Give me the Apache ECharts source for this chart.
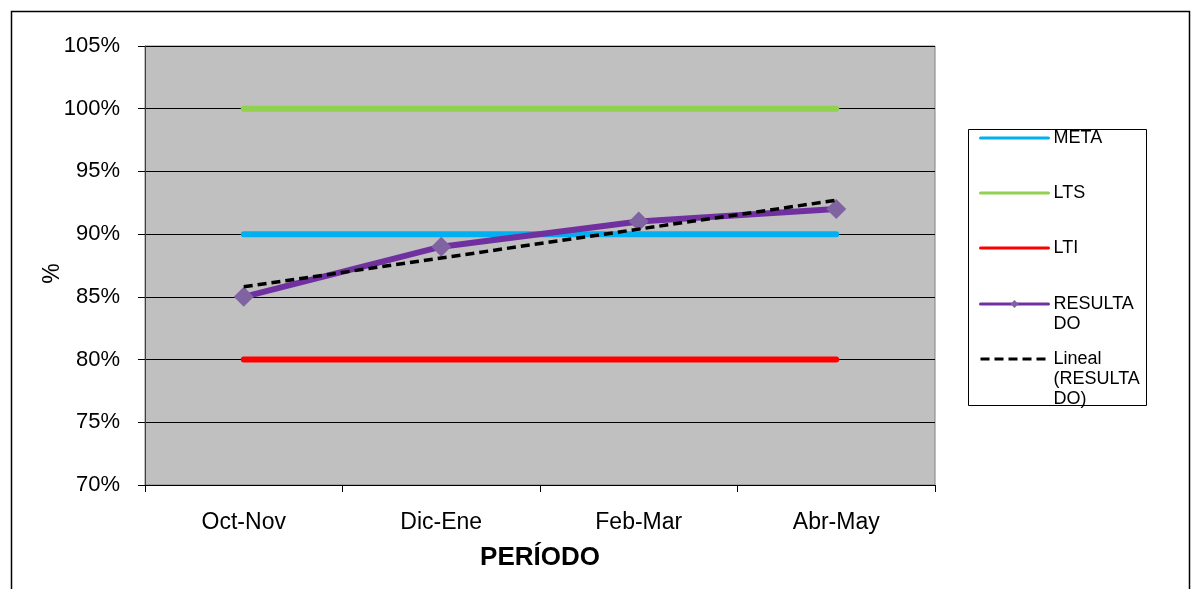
<!DOCTYPE html>
<html>
<head>
<meta charset="utf-8">
<script src="https://cdn.jsdelivr.net/npm/echarts@6/dist/echarts.min.js"></script>
<style>
html,body{margin:0;padding:0;background:#fff;}
#chart{width:1192px;height:589px;}
</style>
</head>
<body>
<div id="chart"></div>
<script>
var categories = ['Oct-Nov', 'Dic-Ene', 'Feb-Mar', 'Abr-May'];
var meta = [90, 90, 90, 90];
var lts = [100, 100, 100, 100];
var lti = [80, 80, 80, 80];
var resultado = [85, 89, 91, 92];
var lineal = [85.8, 88.1, 90.4, 92.7];
var yTicks = {min: 70, max: 105, interval: 5};
var seriesNames = ['META', 'LTS', 'LTI', 'RESULTADO', 'Lineal (RESULTADO)'];
var legendLabels = ['META', 'LTS', 'LTI', 'RESULTA\nDO', 'Lineal\n(RESULTA\nDO)'];

var chart = echarts.init(document.getElementById('chart'));
var font = 'Liberation Sans, Arial, sans-serif';
var legendCenters = [137, 192, 247, 303, 358];
var lh = 20;
var legends = seriesNames.map(function (n, i) {
  var lines = legendLabels[i].split('\n');
  var blanks = [];
  for (var k = 1; k < lines.length; k++) blanks.push('\u00a0');
  var label = blanks.concat(lines).join('\n');
  var total = blanks.length + lines.length;
  var textH = total * lh;
  var hasSymbol = (n === 'RESULTADO');
  return {
    data: [{name: n, itemStyle: hasSymbol ? {} : {opacity: 0}}],
    left: 979,
    top: legendCenters[i] - textH / 2 + 1,
    orient: 'vertical',
    itemWidth: 68,
    itemHeight: 10,
    itemGap: 0,
    padding: 0,
    selectedMode: false,
    formatter: function () { return label; },
    lineStyle: {width: 3},
    textStyle: {fontFamily: font, fontSize: 18, color: '#000', lineHeight: lh}
  };
});

chart.setOption({
  animation: false,
  backgroundColor: '#fff',
  textStyle: {fontFamily: font},
  grid: {left: 145, right: 257, top: 46, bottom: 104, show: true, backgroundColor: '#C0C0C0', borderColor: '#808080', borderWidth: 1},
  legend: legends,
  graphic: [
    {type: 'rect', shape: {x: 11.5, y: 11.5, width: 1178, height: 600}, style: {fill: 'none', stroke: '#000', lineWidth: 1.5}, silent: true},
    {type: 'rect', shape: {x: 968.5, y: 129.5, width: 178, height: 276}, style: {fill: 'none', stroke: '#000', lineWidth: 1}, silent: true, z: 0}
  ],
  xAxis: {
    type: 'category',
    data: categories,
    boundaryGap: true,
    name: 'PERÍODO',
    nameLocation: 'middle',
    nameGap: 60,
    nameMoveOverlap: false,
    nameTextStyle: {fontFamily: font, fontSize: 26, fontWeight: 'bold', color: '#000'},
    axisLine: {lineStyle: {color: '#000', width: 1}},
    axisTick: {show: true, length: 7, alignWithLabel: false, lineStyle: {color: '#000'}},
    axisLabel: {fontFamily: font, fontSize: 23, color: '#000', margin: 26},
    splitLine: {show: false}
  },
  yAxis: {
    type: 'value',
    min: yTicks.min,
    max: yTicks.max,
    interval: yTicks.interval,
    name: '%',
    nameLocation: 'middle',
    nameGap: 81,
    nameRotate: 90,
    nameMoveOverlap: false,
    nameTextStyle: {fontFamily: font, fontSize: 23, color: '#000', padding: [0, 16, 0, 0]},
    axisLine: {show: true, lineStyle: {color: '#404040', width: 1}},
    axisTick: {show: true, length: 7, lineStyle: {color: '#000'}},
    axisLabel: {fontFamily: font, fontSize: 22, color: '#000', margin: 25, formatter: '{value}%'},
    splitLine: {show: true, lineStyle: {color: '#000', width: 1}}
  },
  series: [
    {name: 'META', type: 'line', data: meta, symbol: 'none', lineStyle: {color: '#00B0F0', width: 6, cap: 'round'}, itemStyle: {color: '#00B0F0'}, z: 2},
    {name: 'LTS', type: 'line', data: lts, symbol: 'none', lineStyle: {color: '#92D050', width: 6, cap: 'round'}, itemStyle: {color: '#92D050'}, z: 2},
    {name: 'LTI', type: 'line', data: lti, symbol: 'none', lineStyle: {color: '#FF0000', width: 6, cap: 'round'}, itemStyle: {color: '#FF0000'}, z: 2},
    {name: 'RESULTADO', type: 'line', data: resultado, symbol: 'diamond', symbolSize: 20, showSymbol: true, lineStyle: {color: '#7030A0', width: 6, cap: 'round'}, itemStyle: {color: '#8064A2'}, z: 3},
    {name: 'Lineal (RESULTADO)', type: 'line', data: lineal, symbol: 'none', lineStyle: {color: '#000', width: 3.5, type: [9, 5]}, itemStyle: {color: '#000'}, z: 4}
  ]
});
</script>
</body>
</html>
